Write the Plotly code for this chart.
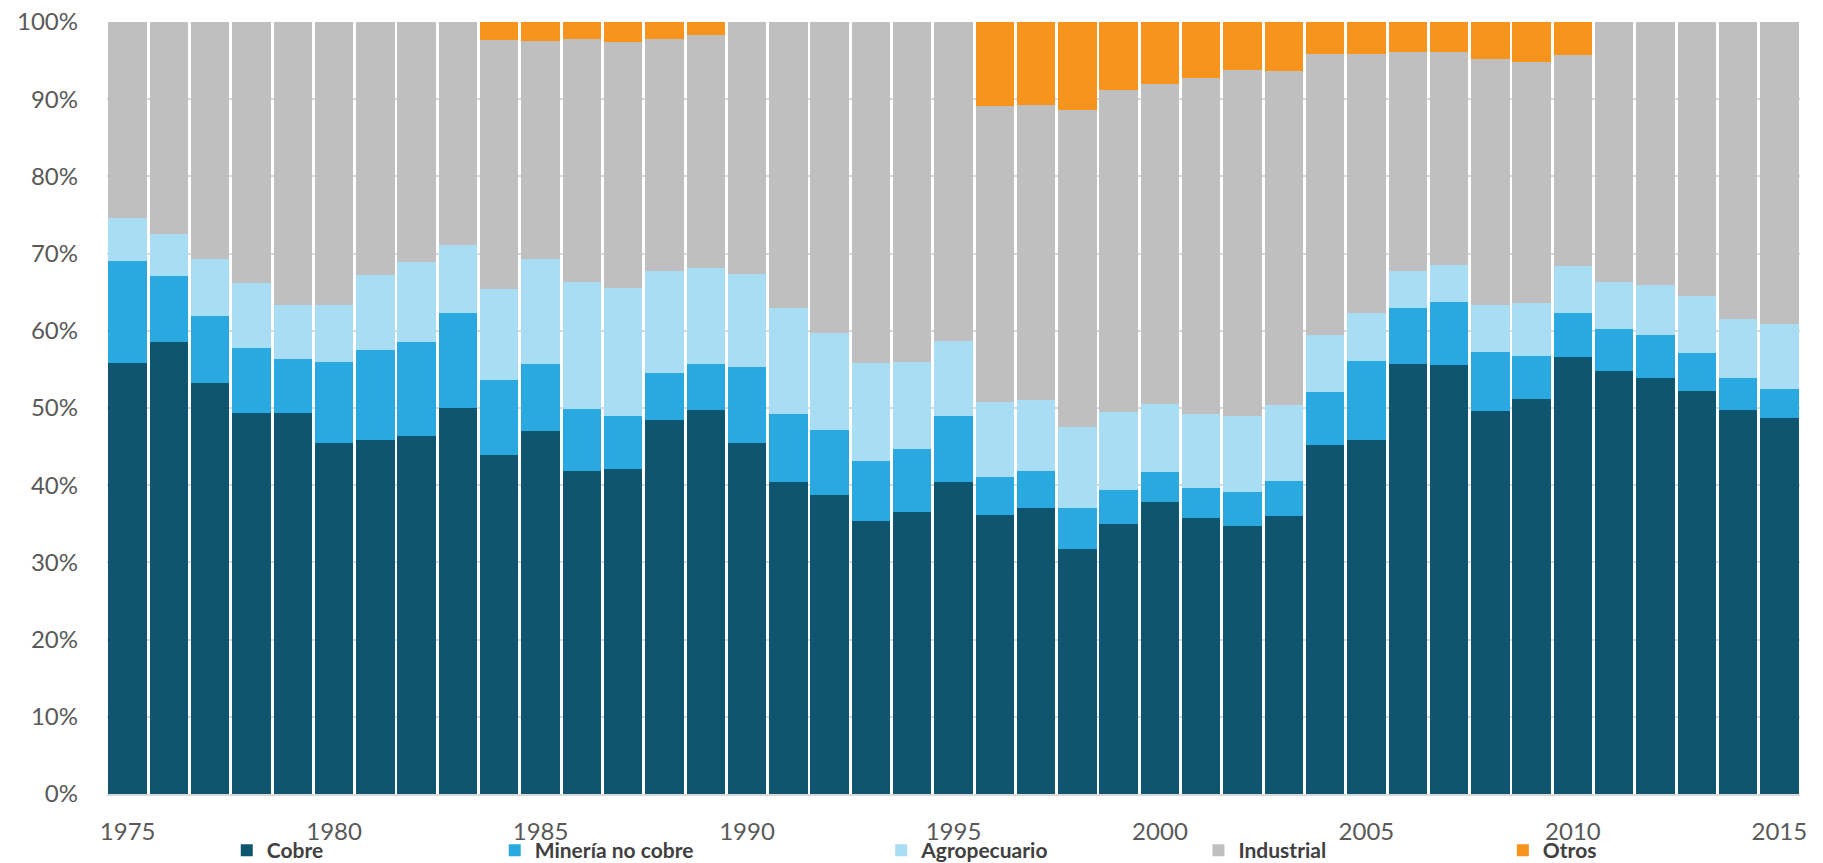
import plotly.graph_objects as go

years = list(range(1975, 2016))

cobre = [55.8, 58.5, 53.3, 49.4, 49.4, 45.5, 45.9, 46.4, 50.0, 43.9,
         47.0, 41.9, 42.1, 48.4, 49.7, 45.5, 40.4, 38.75, 35.3, 36.5,
         40.4, 36.2, 37.1, 31.75, 35.0, 37.85, 35.7, 34.7, 36.0, 45.2,
         45.9, 55.65, 55.55, 49.55, 51.2, 56.6, 54.8, 53.9, 52.2, 49.8, 48.7]

mineria = [13.25, 8.6, 8.6, 8.4, 6.9, 10.5, 11.6, 12.1, 12.3, 9.7,
           8.7, 8.0, 6.9, 6.1, 5.95, 9.85, 8.8, 8.35, 7.8, 8.2,
           8.6, 4.9, 4.75, 5.25, 4.4, 3.85, 4.0, 4.4, 4.5, 6.9,
           10.2, 7.35, 8.15, 7.7, 5.6, 5.7, 5.4, 5.5, 4.9, 4.1, 3.8]

agro = [5.55, 5.4, 7.4, 8.4, 7.0, 7.3, 9.7, 10.4, 8.8, 11.8,
        13.6, 16.4, 16.6, 13.3, 12.45, 11.95, 13.8, 12.6, 12.7, 11.2,
        9.7, 9.7, 9.15, 10.5, 10.1, 8.85, 9.5, 9.9, 9.9, 7.4,
        6.2, 4.75, 4.8, 6.1, 6.8, 6.1, 6.1, 6.5, 7.45, 7.6, 8.4]

industrial = [25.4, 27.5, 30.7, 33.8, 36.7, 36.7, 32.8, 31.1, 28.9, 32.3,
              28.3, 31.5, 31.8, 30.0, 30.2, 32.7, 37.0, 40.3, 44.2, 44.1,
              41.3, 38.3, 38.3, 41.1, 41.7, 41.45, 43.6, 44.8, 43.3, 36.3,
              33.5, 28.35, 27.6, 31.85, 31.25, 27.3, 33.7, 34.1, 35.45, 38.5, 39.1]

otros = [0, 0, 0, 0, 0, 0, 0, 0, 0, 2.3,
         2.4, 2.2, 2.6, 2.2, 1.7, 0, 0, 0, 0, 0,
         0, 10.9, 10.7, 11.4, 8.8, 8.0, 7.2, 6.2, 6.3, 4.2,
         4.2, 3.9, 3.9, 4.8, 5.15, 4.3, 0, 0, 0, 0, 0]

tick_years = [1975, 1980, 1985, 1990, 1995, 2000, 2005, 2010, 2015]

series = [
    ("Cobre", cobre, "#10556f", "legend", 0.120),
    ("Minería no cobre", mineria, "#29a9e0", "legend2", 0.267),
    ("Agropecuario", agro, "#a9ddf3", "legend3", 0.479),
    ("Industrial", industrial, "#bfbfbf", "legend4", 0.653),
    ("Otros", otros, "#f7941d", "legend5", 0.820),
]

FONT = "Lato, 'Open Sans', 'DejaVu Sans', sans-serif"

fig = go.Figure()
legends = {}
for name, vals, color, lg, lx in series:
    fig.add_trace(go.Bar(
        x=years, y=vals, name=name, legend=lg,
        marker=dict(color=color, line=dict(width=0)),
    ))
    legends[lg] = dict(
        xref="container", yref="container", x=lx, y=0.0,
        xanchor="left", yanchor="bottom", orientation="h",
        bgcolor="rgba(0,0,0,0)", itemwidth=30,
        font=dict(family=FONT, size=21, color="#404040", weight="bold"),
    )

fig.update_layout(
    width=1823, height=863,
    barmode="stack", bargap=0.07,
    plot_bgcolor="white", paper_bgcolor="white",
    margin=dict(l=99, r=31, t=14, b=77, autoexpand=False),
    showlegend=True,
    **legends,
)

fig.update_xaxes(
    range=[1974.5, 2015.5], tickvals=tick_years,
    ticktext=[str(t) for t in tick_years],
    showgrid=False, showline=True, linecolor="#d9d9d9", linewidth=2,
    ticks="", ticklabelstandoff=15, ticklabeloverflow="allow",
    tickfont=dict(family=FONT, size=24, color="#595959"),
)
fig.update_yaxes(
    range=[0, 100], dtick=10, ticksuffix="%",
    showgrid=True, gridcolor="#d9d9d9", gridwidth=2,
    zeroline=False, ticks="", ticklabelstandoff=28, ticklabeloverflow="allow",
    tickfont=dict(family=FONT, size=24, color="#595959"),
)

fig.write_html("out.html")
